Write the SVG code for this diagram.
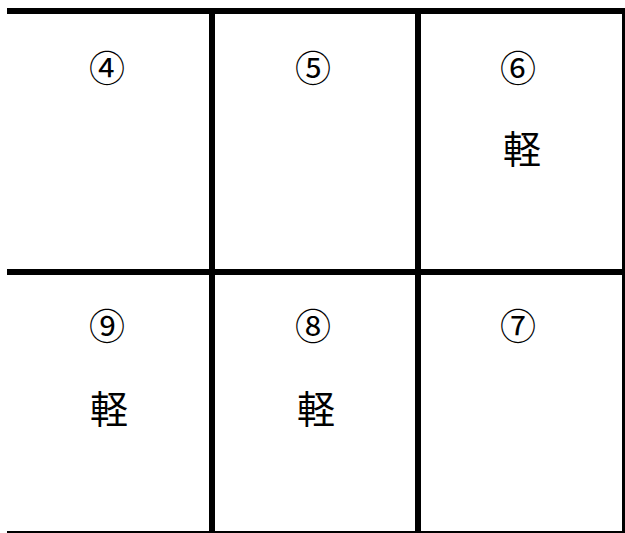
<svg xmlns="http://www.w3.org/2000/svg" width="625" height="533" viewBox="0 0 625 533">
<style>
.ln{stroke:#000;fill:none}
.t{font-family:"Noto Sans CJK JP","Noto Sans CJK SC",sans-serif;text-anchor:middle;dominant-baseline:central;fill:#000}
.c{font-size:36px}
.k{font-size:38px}
</style>
<rect width="625" height="533" fill="#fff"/>
<g id="connectors">
<line class="ln" x1="7" y1="11" x2="625" y2="11" stroke-width="6"/>
<line class="ln" x1="7" y1="272" x2="625" y2="272" stroke-width="6"/>
<line class="ln" x1="7" y1="532" x2="625" y2="532" stroke-width="2"/>
<line class="ln" x1="212" y1="8" x2="212" y2="533" stroke-width="6"/>
<line class="ln" x1="418" y1="8" x2="418" y2="533" stroke-width="6"/>
<line class="ln" x1="623.5" y1="8" x2="623.5" y2="533" stroke-width="3"/>
</g>
<g id="cell4"><text class="t c" x="107" y="66">④</text></g>
<g id="cell5"><text class="t c" x="313" y="66">⑤</text></g>
<g id="cell6"><text class="t c" x="518" y="66">⑥</text><text class="t k" x="522" y="146">軽</text></g>
<g id="cell9"><text class="t c" x="107" y="324">⑨</text><text class="t k" x="109" y="406">軽</text></g>
<g id="cell8"><text class="t c" x="313" y="324">⑧</text><text class="t k" x="316" y="406">軽</text></g>
<g id="cell7"><text class="t c" x="518" y="324">⑦</text></g>
</svg>
